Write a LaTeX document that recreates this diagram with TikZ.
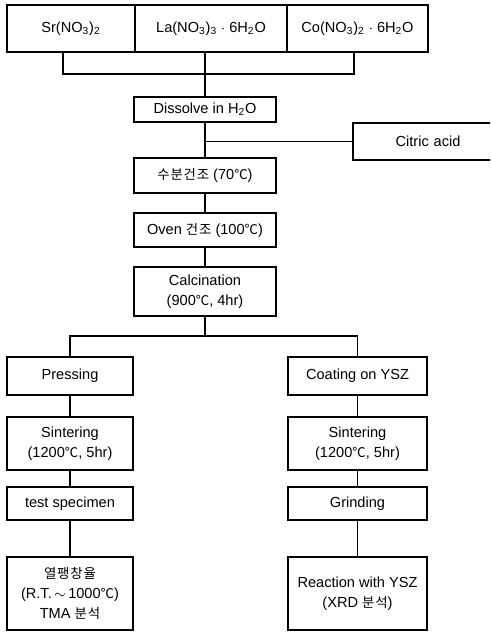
\documentclass[tikz,border=0pt]{standalone}
\usepackage{fontspec}
\setmainfont{Liberation Sans}
\newfontfamily\kor{Noto Sans CJK KR}[Scale=0.92, LetterSpace=6]
\newfontfamily\korsym{Noto Sans CJK KR}[Scale=0.92]
\usetikzlibrary{positioning}
\newcommand{\dC}{{\korsym ℃}}
\newcommand{\sbs}[1]{\textsubscript{#1}}

\begin{document}
\begin{tikzpicture}[x=0.02cm, y=-0.02cm,
            caja/.style={rectangle, draw=black, line width=0.6pt, inner sep=0pt, align=center, font=\fontsize{8.3}{11.5}\selectfont},
            centro/.style={caja, minimum width=2.84cm},
            izq/.style={caja, minimum width=2.52cm},
            der/.style={caja, minimum width=2.78cm},
            linea/.style={line width=0.6pt, black}]

            \useasboundingbox (0,0) rectangle (490,634);
            \clip (0,0) rectangle (490,634);

            % raw materials
            \node[caja, minimum width=2.56cm, minimum height=0.94cm] (sr) at (71,28.5) {Sr(NO\sbs{3})\sbs{2}};
            \node[caja, minimum width=3.04cm, minimum height=0.94cm] (la) at (211,28.5) {La(NO\sbs{3})\sbs{3} $\cdot$ 6H\sbs{2}O};
            \node[caja, minimum width=2.82cm, minimum height=0.94cm] (co) at (357.5,28.5) {Co(NO\sbs{3})\sbs{2} $\cdot$ 6H\sbs{2}O};

            % main line
            \node[centro, minimum height=0.5cm] (dis) at (205,109.5) {Dissolve in H\sbs{2}O};
            \node[caja, minimum width=3.0cm, minimum height=0.74cm, text width=2.7cm] (cit) at (428,141.5) {Citric acid\hspace*{0.5cm}};
            \node[centro, minimum height=0.7cm] (dry) at (205,175.5) {{\kor 수분건조} (70\dC)};
            \node[centro, minimum height=0.68cm] (oven) at (205,230) {Oven {\kor 건조} (100\dC)};
            \node[centro, minimum height=0.98cm] (calc) at (205,291.5) {Calcination\\(900\dC, 4hr)};

            % left branch
            \node[izq, minimum height=0.76cm] (press) at (70,376) {Pressing};
            \node[izq, minimum height=1.06cm] (sintL) at (70,443.5) {Sintering\\(1200\dC, 5hr)};
            \node[izq, minimum height=0.66cm] (test) at (70,503.5) {test specimen};
            \node[izq, minimum height=1.46cm] (tma) at (70,593.5) {{\kor 열팽창율}\\(R.T.\,$\sim$\,1000\dC)\\TMA {\kor 분석}};

            % right branch
            \node[der, minimum height=0.76cm] (coat) at (357.5,376) {Coating on YSZ};
            \node[der, minimum height=1.06cm] (sintR) at (357.5,443.5) {Sintering\\(1200\dC, 5hr)};
            \node[der, minimum height=0.66cm] (grind) at (357.5,503.5) {Grinding};
            \node[der, minimum height=1.46cm] (xrd) at (357.5,593.5) {Reaction with YSZ\\(XRD {\kor 분석})};

            \coordinate (mixL) at (63,74);
            \coordinate (mixR) at (354,74);
            \coordinate (brL) at (70,336);
            \coordinate (brR) at (357.5,336);

            \draw[linea] (sr.south -| mixL) -- (mixL) -- (mixR) -- (co.south -| mixR);
            \draw[linea] (la.south -| dis.north) -- (dis.north);
            \draw[linea] (dis) -- (dry);
            \draw[linea] (dis.south |- cit.west) -- (cit.west);
            \draw[linea] (dry) -- (oven);
            \draw[linea] (oven) -- (calc);
            \draw[linea] (calc.south) -- (calc.south |- brL);
            \draw[linea] (press.north) -- (brL) -- (brR) -- (coat.north);
            \draw[linea] (press) -- (sintL);
            \draw[linea] (sintL) -- (test);
            \draw[linea] (test) -- (tma);
            \draw[linea] (coat) -- (sintR);
            \draw[linea] (sintR) -- (grind);
            \draw[linea] (grind) -- (xrd);
        \end{tikzpicture}
\end{document}
